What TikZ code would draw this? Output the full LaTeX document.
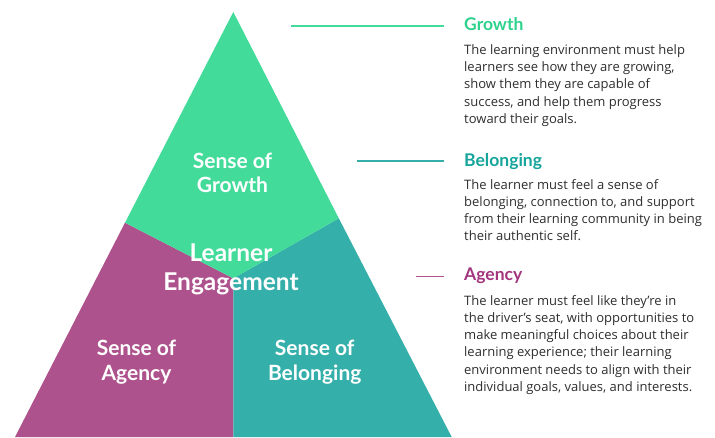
\documentclass[tikz,border=0pt]{standalone}
\usepackage{fontspec}
\setmainfont{Lato}
\newfontfamily\bodyfont{Open Sans}
\definecolor{growthfill}{HTML}{43DB9A}
\definecolor{belongfill}{HTML}{35AFAA}
\definecolor{agencyfill}{HTML}{AE528D}
\definecolor{growthhead}{HTML}{2ED28C}
\definecolor{belonghead}{HTML}{16A59B}
\definecolor{agencyhead}{HTML}{A3357F}
\definecolor{bodytext}{HTML}{2E2E2E}
\tikzset{
  seglabel/.style={text=white, font=\bfseries\fontsize{21}{24.5}\selectfont, align=center, inner sep=0pt, anchor=base},
  corelabel/.style={text=white, font=\bfseries\fontsize{24.5}{28.3}\selectfont, align=center, inner sep=0pt, anchor=base},
  heading/.style={font=\bfseries\fontsize{17.5}{20}\selectfont, inner sep=0pt, anchor=base west},
  body/.style={text=bodytext, font=\bodyfont\fontsize{13}{17.3}\selectfont, align=left, inner sep=0pt, anchor=base west},
  leader/.style={line width=1.2pt}
}
\begin{document}
\begin{tikzpicture}[x=1pt,y=-1pt]
\useasboundingbox (0,0) rectangle (715,437);
% pyramid corners and inner split points
\coordinate (apex) at (233.3,12);
\coordinate (bl) at (15,437);
\coordinate (br) at (451.7,437);
\coordinate (ls) at (125,222.7);
\coordinate (rs) at (338.8,218.3);
\coordinate (ctr) at (233.3,278.3);
\coordinate (bm) at (233.3,437);
% three segments
\fill[agencyfill] (ls) -- (ctr) -- (bm) -- (bl) -- cycle;
\fill[belongfill] (rs) -- (ctr) -- (bm) -- (br) -- cycle;
\fill[growthfill] (apex) -- (rs) -- (ctr) -- (ls) -- cycle;
% segment labels (anchored on the baseline of their last line)
\node[seglabel] (sg) at (232.5,192.7) {Sense of\\Growth};
\node[corelabel] (le) at (231,290) {Learner\\Engagement};
\node[seglabel] (sa) at (136.5,380) {Sense of\\Agency};
\node[seglabel] (sb) at (314.7,380) {Sense of\\Belonging};
% descriptions
\node[heading, text=growthhead] (hg) at (464,30.7) {Growth};
\node[body] (bg) at (464,123.5) {The learning environment must help\\learners see how they are growing,\\show them they are capable of\\success, and help them progress\\toward their goals.};
\node[heading, text=belonghead] (hb) at (464,166.7) {Belonging};
\node[body] (bb) at (464,240.9) {The learner must feel a sense of\\belonging, connection to, and support\\from their learning community in being\\their authentic self.};
\node[heading, text=agencyhead] (ha) at (464,280.7) {Agency};
\node[body] (ba) at (464,391.5) {The learner must feel like they’re in\\the driver’s seat, with opportunities to\\make meaningful choices about their\\learning experience; their learning\\environment needs to align with their\\individual goals, values, and interests.};
% leader lines
\coordinate (lg) at (291,26);
\coordinate (lb) at (357,161);
\coordinate (la) at (415.7,276.7);
\draw[leader, growthfill] (lg) -- (lg -| 444,0);
\draw[leader, belongfill] (lb) -- (lb -| 444,0);
\draw[leader, agencyfill] (la) -- (la -| 444,0);
\end{tikzpicture}
\end{document}
